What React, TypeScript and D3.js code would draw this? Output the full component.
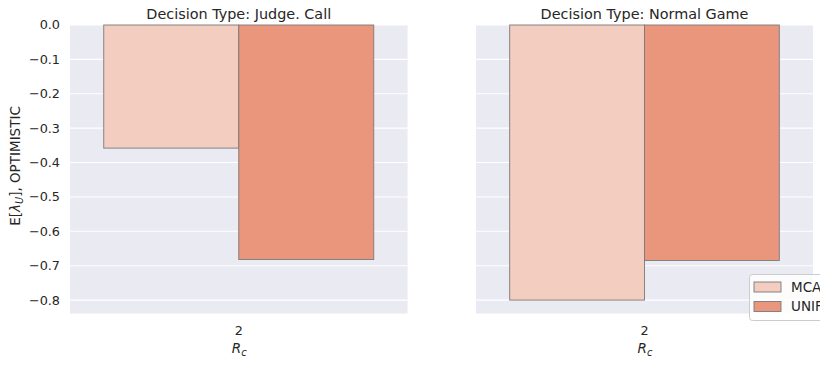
import React from "react";
import * as d3 from "d3";

// panels (decision types), hue levels and bar values
const panels = ["Judge. Call", "Normal Game"];
const hues = ["MCA", "UNIF"];
const xCategories = ["2"];
const mcaValues = [-0.358, -0.8];
const unifValues = [-0.682, -0.685];
const yTicks = [0.0, -0.1, -0.2, -0.3, -0.4, -0.5, -0.6, -0.7, -0.8];

const colors: Record<string, string> = { MCA: "#f3cdbf", UNIF: "#e9967c" };

const App = () => {
  const width = 820;
  const height = 365;
  const top = 25;
  const bottom = 313.5;
  const panelX = [
    [70, 407.5],
    [476, 813],
  ];

  const yScale = d3.scaleLinear().domain([-0.839, 0]).range([bottom, top]);
  const fmt = (v: number) => (v < 0 ? "\u2212" + Math.abs(v).toFixed(1) : v.toFixed(1));
  const font = "DejaVu Sans, sans-serif";
  const textColor = "#262626";

  return (
    <svg
      width={width}
      height={height}
      style={{ position: "absolute", left: 0, top: 0 }}
      fontFamily={font}
    >
      <rect width={width} height={height} fill="white" />
      {panels.map((p, pi) => {
        const [x0, x1] = panelX[pi];
        const xScale = d3.scaleBand().domain(xCategories).range([x0, x1]).paddingInner(0.2).paddingOuter(0.1);
        const inner = d3.scaleBand().domain(hues).range([0, xScale.bandwidth()]);
        const vals = [mcaValues[pi], unifValues[pi]];
        return (
          <g key={p}>
            <rect x={x0} y={top} width={x1 - x0} height={bottom - top} fill="#eaeaf2" />
            {yTicks.map((t) => (
              <line key={t} x1={x0} x2={x1} y1={yScale(t)} y2={yScale(t)} stroke="white" strokeWidth={1.1} />
            ))}
            {xCategories.map((c) =>
              hues.map((h, hi) => (
                <rect
                  key={c + h}
                  x={(xScale(c) ?? 0) + (inner(h) ?? 0)}
                  y={yScale(0)}
                  width={inner.bandwidth()}
                  height={yScale(vals[hi]) - yScale(0)}
                  fill={colors[h]}
                  stroke="#7a7a7a"
                  strokeWidth={0.9}
                />
              ))
            )}
            <text x={(x0 + x1) / 2} y={19} textAnchor="middle" fontSize={14.4} fill={textColor}>
              Decision Type: {p}
            </text>
            {xCategories.map((c) => (
              <text
                key={c}
                x={(xScale(c) ?? 0) + xScale.bandwidth() / 2}
                y={335}
                textAnchor="middle"
                fontSize={12.8}
                fill={textColor}
              >
                {c}
              </text>
            ))}
            <text x={(x0 + x1) / 2 - 7} y={353} fontSize={13.5} fill={textColor} fontStyle="italic">
              R
              <tspan fontSize={9.8} dy={3}>
                c
              </tspan>
            </text>
            {pi === 0 &&
              yTicks.map((t) => (
                <text key={t} x={60} y={yScale(t)} dy="0.35em" textAnchor="end" fontSize={12.8} fill={textColor}>
                  {fmt(t)}
                </text>
              ))}
          </g>
        );
      })}
      {/* y axis label */}
      <text transform={`translate(20, 166) rotate(-90)`} textAnchor="middle" fontSize={13.5} fill={textColor}>
        E[
        <tspan fontStyle="italic">λ</tspan>
        <tspan fontStyle="italic" fontSize={9.8} dy={3}>
          U
        </tspan>
        <tspan dy={-3}>], OPTIMISTIC</tspan>
      </text>
      {/* legend */}
      <g>
        <rect x={749.5} y={274.5} width={90} height={46} rx={3} fill="white" fillOpacity={0.85} stroke="#cccccc" />
        {hues.map((h, i) => (
          <g key={h}>
            <rect x={754} y={282 + i * 19.5} width={27} height={10} fill={colors[h]} stroke="#7a7a7a" strokeWidth={0.9} />
            <text x={791} y={287 + i * 19.5} dy="0.35em" fontSize={13.5} fill={textColor}>
              {h}
            </text>
          </g>
        ))}
      </g>
    </svg>
  );
};

export default App;
